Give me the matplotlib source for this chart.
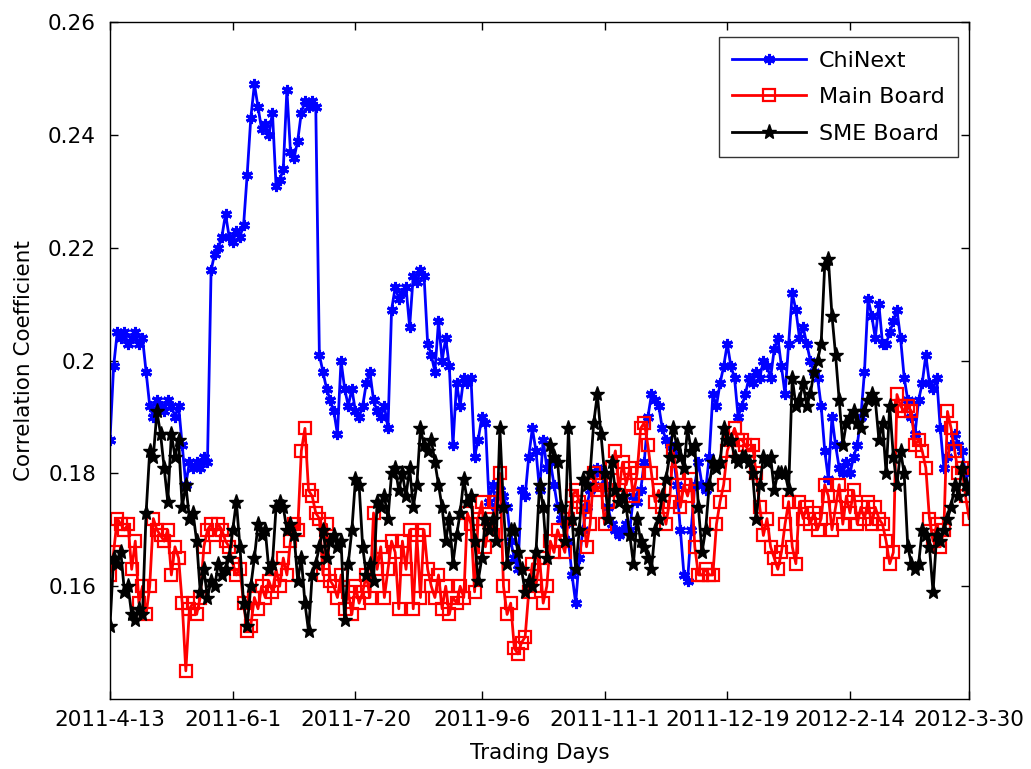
import matplotlib
matplotlib.use("Agg")
import matplotlib.pyplot as plt
import numpy as np

tick_labels = ["2011-4-13", "2011-6-1", "2011-7-20", "2011-9-6",
               "2011-11-1", "2011-12-19", "2012-2-14", "2012-3-30"]
tick_index = [0, 34, 68, 103, 137, 171, 205, 238]

chinext = [
 0.186,0.199,0.205,0.204,0.205,0.203,0.204,0.205,0.203,0.204,
 0.198,0.192,0.190,0.193,0.192,0.191,0.193,0.192,0.190,0.192,
 0.185,0.178,0.182,0.181,0.182,0.181,0.183,0.182,0.216,0.219,
 0.220,0.222,0.226,0.222,0.221,0.223,0.222,0.224,0.233,0.243,
 0.249,0.245,0.241,0.242,0.240,0.244,0.231,0.232,0.234,0.248,
 0.237,0.236,0.239,0.244,0.246,0.245,0.246,0.245,0.201,0.198,
 0.195,0.193,0.191,0.187,0.200,0.195,0.192,0.195,0.191,0.190,
 0.192,0.196,0.198,0.193,0.191,0.190,0.192,0.188,0.209,0.213,
 0.211,0.212,0.213,0.206,0.215,0.214,0.216,0.215,0.203,0.201,
 0.198,0.207,0.200,0.204,0.199,0.185,0.196,0.192,0.197,0.196,
 0.197,0.183,0.186,0.190,0.189,0.175,0.178,0.174,0.177,0.176,
 0.174,0.168,0.165,0.163,0.177,0.176,0.183,0.188,0.184,0.177,
 0.186,0.181,0.182,0.178,0.174,0.172,0.171,0.168,0.162,0.157,
 0.165,0.170,0.174,0.177,0.178,0.181,0.180,0.178,0.174,0.171,
 0.170,0.169,0.170,0.171,0.170,0.176,0.175,0.177,0.182,0.190,
 0.194,0.193,0.192,0.188,0.186,0.185,0.184,0.178,0.170,0.162,
 0.161,0.170,0.178,0.182,0.178,0.177,0.183,0.194,0.192,0.196,
 0.199,0.203,0.199,0.197,0.190,0.192,0.194,0.197,0.196,0.198,
 0.197,0.200,0.199,0.197,0.202,0.204,0.199,0.194,0.203,0.212,
 0.209,0.204,0.206,0.203,0.200,0.198,0.197,0.192,0.184,0.179,
 0.190,0.185,0.181,0.180,0.182,0.180,0.183,0.185,0.190,0.198,
 0.211,0.208,0.204,0.210,0.203,0.203,0.205,0.207,0.209,0.204,
 0.197,0.193,0.190,0.187,0.193,0.196,0.201,0.196,0.195,0.197,
 0.188,0.181,0.183,0.185,0.187,0.185,0.184,0.180,0.177]

main_board = [
 0.162,0.166,0.172,0.171,0.170,0.171,0.163,0.168,0.157,0.160,
 0.155,0.160,0.172,0.170,0.169,0.168,0.170,0.162,0.167,0.165,
 0.157,0.145,0.156,0.157,0.155,0.158,0.167,0.170,0.171,0.169,
 0.171,0.170,0.168,0.167,0.164,0.162,0.163,0.157,0.152,0.153,
 0.158,0.156,0.160,0.158,0.161,0.159,0.163,0.160,0.165,0.162,
 0.168,0.171,0.170,0.184,0.188,0.177,0.176,0.173,0.172,0.162,
 0.171,0.161,0.160,0.158,0.162,0.156,0.159,0.155,0.160,0.157,
 0.159,0.162,0.158,0.173,0.163,0.167,0.158,0.163,0.168,0.166,
 0.156,0.168,0.163,0.170,0.156,0.169,0.158,0.170,0.163,0.160,
 0.158,0.162,0.156,0.160,0.155,0.158,0.157,0.160,0.158,0.173,
 0.171,0.159,0.172,0.175,0.167,0.172,0.169,0.175,0.180,0.160,
 0.155,0.157,0.149,0.148,0.150,0.151,0.159,0.164,0.160,0.165,
 0.157,0.160,0.168,0.166,0.170,0.168,0.166,0.172,0.176,0.177,
 0.175,0.174,0.167,0.171,0.180,0.177,0.178,0.171,0.175,0.181,
 0.184,0.177,0.182,0.178,0.181,0.176,0.180,0.188,0.189,0.185,
 0.180,0.175,0.177,0.174,0.171,0.175,0.184,0.180,0.174,0.178,
 0.176,0.179,0.167,0.162,0.162,0.163,0.162,0.162,0.171,0.175,
 0.178,0.184,0.186,0.188,0.186,0.186,0.185,0.184,0.185,0.180,
 0.174,0.169,0.172,0.167,0.165,0.163,0.166,0.171,0.175,0.167,
 0.164,0.175,0.172,0.174,0.171,0.173,0.170,0.172,0.178,0.176,
 0.170,0.174,0.178,0.171,0.176,0.173,0.177,0.171,0.174,0.172,
 0.175,0.171,0.174,0.172,0.171,0.168,0.164,0.166,0.194,0.192,
 0.191,0.192,0.191,0.185,0.186,0.184,0.181,0.172,0.168,0.171,
 0.167,0.170,0.191,0.188,0.184,0.180,0.181,0.176,0.172]

sme_board = [
 0.153,0.165,0.164,0.166,0.159,0.160,0.155,0.154,0.156,0.155,
 0.173,0.184,0.183,0.191,0.187,0.181,0.175,0.187,0.183,0.186,
 0.174,0.178,0.172,0.173,0.168,0.159,0.163,0.158,0.161,0.160,
 0.164,0.162,0.163,0.165,0.170,0.175,0.167,0.157,0.153,0.160,
 0.165,0.171,0.169,0.170,0.163,0.164,0.174,0.175,0.174,0.170,
 0.171,0.169,0.161,0.165,0.157,0.152,0.162,0.164,0.167,0.170,
 0.165,0.168,0.169,0.167,0.168,0.154,0.164,0.170,0.179,0.178,
 0.167,0.162,0.164,0.161,0.175,0.174,0.176,0.172,0.180,0.181,
 0.177,0.180,0.176,0.181,0.174,0.178,0.188,0.185,0.184,0.186,
 0.182,0.178,0.174,0.168,0.172,0.164,0.169,0.173,0.179,0.175,
 0.176,0.168,0.161,0.165,0.172,0.170,0.172,0.168,0.188,0.174,
 0.164,0.170,0.170,0.166,0.163,0.159,0.161,0.160,0.166,0.178,
 0.174,0.165,0.185,0.183,0.182,0.174,0.168,0.188,0.172,0.163,
 0.170,0.179,0.178,0.180,0.189,0.194,0.187,0.180,0.172,0.182,
 0.177,0.175,0.176,0.174,0.169,0.164,0.172,0.168,0.167,0.165,
 0.163,0.170,0.172,0.176,0.179,0.183,0.188,0.185,0.183,0.181,
 0.188,0.184,0.185,0.174,0.166,0.170,0.178,0.182,0.181,0.182,
 0.188,0.186,0.186,0.183,0.182,0.183,0.183,0.182,0.180,0.172,
 0.178,0.183,0.182,0.183,0.177,0.180,0.180,0.180,0.177,0.197,
 0.192,0.193,0.196,0.192,0.194,0.198,0.200,0.203,0.217,0.218,
 0.208,0.201,0.193,0.185,0.189,0.190,0.191,0.189,0.188,0.191,
 0.193,0.194,0.193,0.186,0.189,0.180,0.192,0.183,0.178,0.184,
 0.180,0.167,0.164,0.163,0.164,0.170,0.169,0.167,0.159,0.169,
 0.168,0.170,0.172,0.174,0.178,0.176,0.181,0.178,0.177]

plt.rcParams['font.family'] = ['DejaVu Sans']

fig = plt.figure(figsize=(10.31, 7.69), dpi=100)
ax = fig.add_axes([0.1067, 0.091, 0.8333, 0.880])

n = len(chinext)
x = np.arange(n)
ax.plot(x, chinext, color='#0000ff', lw=2, marker=(6, 2, 0), ms=8, mew=2.2,
        mec='#0000ff', label='ChiNext')
ax.plot(x, main_board, color='#ff0000', lw=2, marker='s', ms=9, mfc='none',
        mew=1.6, mec='#ff0000', label='Main Board')
ax.plot(x, sme_board, color='black', lw=2, marker='*', ms=11, mfc='black',
        mec='black', label='SME Board')

ax.set_xlim(0, n - 1)
ax.set_ylim(0.14, 0.26)
ax.set_xticks(tick_index)
ax.set_xticklabels(tick_labels, fontsize=15.5)
ax.set_yticks([0.16, 0.18, 0.2, 0.22, 0.24, 0.26])
ax.set_yticklabels(['0.16', '0.18', '0.2', '0.22', '0.24', '0.26'], fontsize=15.5)
ax.tick_params(axis='both', direction='in', length=6, width=1, top=True, right=True)
ax.tick_params(axis='x', pad=8)
ax.tick_params(axis='y', pad=10)
for s in ax.spines.values():
    s.set_linewidth(1)
ax.set_xlabel('Trading Days', fontsize=15.5, labelpad=9)
ax.set_ylabel('Correlation Coefficient', fontsize=15.5, labelpad=10)

leg = ax.legend(loc='upper right', bbox_to_anchor=(0.987, 0.978), fontsize=16,
                frameon=True, fancybox=False, edgecolor='black',
                handlelength=3.3, handletextpad=0.6, borderpad=0.6,
                labelspacing=0.75, borderaxespad=0)
leg.get_frame().set_linewidth(1)

fig.savefig('out.png', dpi=100)
